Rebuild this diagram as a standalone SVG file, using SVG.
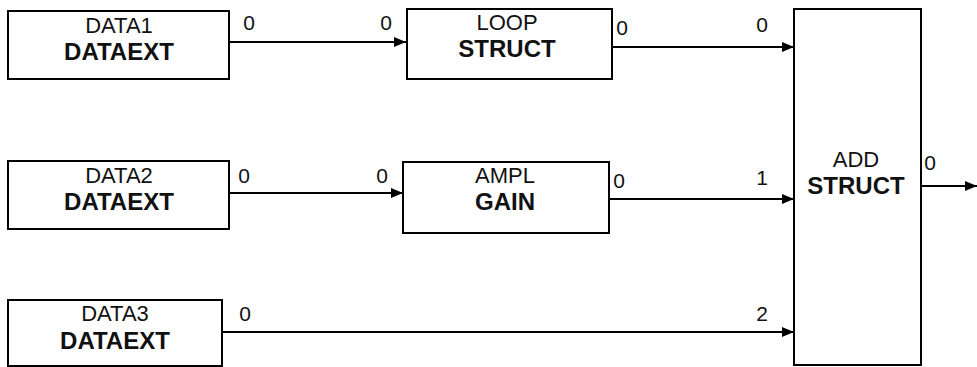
<svg xmlns="http://www.w3.org/2000/svg" width="977" height="367" viewBox="0 0 977 367">
<defs>
<marker id="ah" markerWidth="12" markerHeight="10" refX="12" refY="5" orient="auto" markerUnits="userSpaceOnUse">
<path d="M0,0 L12,5 L0,10 Z" fill="#000"/>
</marker>
</defs>
<style>
.box{fill:#fff;stroke:#000;stroke-width:2}
.t{font-family:"Liberation Sans",Arial,sans-serif;font-size:22px;fill:#111;text-anchor:middle}
.b{font-family:"Liberation Sans",Arial,sans-serif;font-size:24px;font-weight:bold;fill:#111;text-anchor:middle}
.p{font-family:"Liberation Sans",Arial,sans-serif;font-size:21px;fill:#111;text-anchor:middle}
.c{stroke:#000;stroke-width:2;fill:none;marker-end:url(#ah)}
</style>
<rect width="977" height="367" fill="#fff"/>
<g id="connectors">
<line class="c" x1="229" y1="42" x2="406" y2="42"/>
<line class="c" x1="612" y1="47" x2="794" y2="47"/>
<line class="c" x1="229" y1="193" x2="403" y2="193"/>
<line class="c" x1="609" y1="199" x2="794" y2="199"/>
<line class="c" x1="222" y1="332" x2="794" y2="332"/>
<line class="c" x1="921" y1="186" x2="977" y2="186"/>
<text class="p" x="249" y="30">0</text>
<text class="p" x="386" y="30">0</text>
<text class="p" x="622" y="35">0</text>
<text class="p" x="762" y="32">0</text>
<text class="p" x="244" y="183">0</text>
<text class="p" x="382" y="183">0</text>
<text class="p" x="619" y="188">0</text>
<text class="p" x="762" y="185">1</text>
<text class="p" x="245" y="321">0</text>
<text class="p" x="762" y="321">2</text>
<text class="p" x="930" y="170">0</text>
</g>
<g id="data1">
<rect class="box" x="8" y="11" width="221" height="68"/>
<text class="t" x="119" y="33">DATA1</text>
<text class="b" x="119" y="60">DATAEXT</text>
</g>
<g id="loop">
<rect class="box" x="407" y="9" width="205" height="70"/>
<text class="t" x="507" y="30">LOOP</text>
<text class="b" x="507" y="57">STRUCT</text>
</g>
<g id="data2">
<rect class="box" x="8" y="161" width="221" height="68"/>
<text class="t" x="119" y="183">DATA2</text>
<text class="b" x="119" y="210">DATAEXT</text>
</g>
<g id="ampl">
<rect class="box" x="403" y="162" width="206" height="71"/>
<text class="t" x="505" y="183">AMPL</text>
<text class="b" x="505" y="210">GAIN</text>
</g>
<g id="data3">
<rect class="box" x="8" y="300" width="214" height="66"/>
<text class="t" x="115" y="321">DATA3</text>
<text class="b" x="115" y="349">DATAEXT</text>
</g>
<g id="add">
<rect class="box" x="794" y="9" width="127" height="356"/>
<text class="t" x="856" y="167">ADD</text>
<text class="b" x="856" y="194">STRUCT</text>
</g>
</svg>
